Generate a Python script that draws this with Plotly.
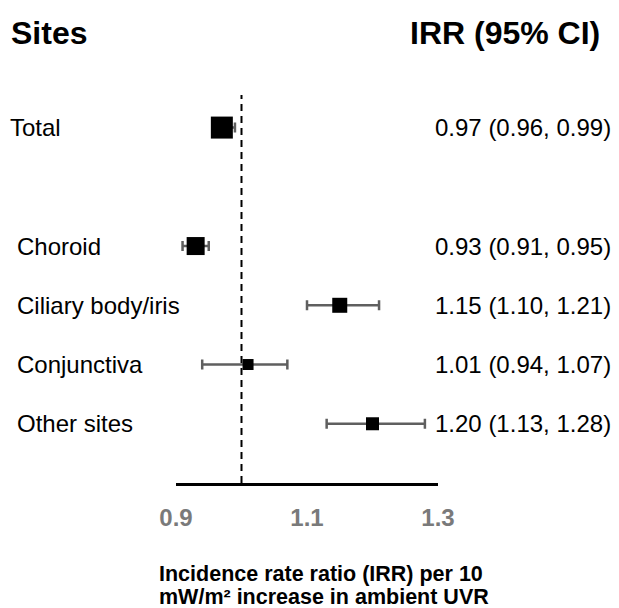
import plotly.graph_objects as go

# ---- data ----
sites = ["Total", "Choroid", "Ciliary body/iris", "Conjunctiva", "Other sites"]
irr = [0.97, 0.93, 1.15, 1.01, 1.20]
ci_low = [0.96, 0.91, 1.10, 0.94, 1.13]
ci_high = [0.99, 0.95, 1.21, 1.07, 1.28]
row_pos = [5, 3, 2, 1, 0]
tick_vals = [0.9, 1.1, 1.3]
tick_text = ["0.9", "1.1", "1.3"]

# ---- style ----
marker_sizes = [22, 18, 15, 11, 13]
FONT = "Liberation Sans, Arial, sans-serif"
W, H = 619, 608
ML, MR, MT, MB = 176, 181, 95, 125
PW, PH = W - ML - MR, H - MT - MB


def px_x(p):
    return (p - ML) / PW


def px_y(p):
    return (H - MB - p) / PH


fig = go.Figure()
# confidence intervals (drawn first, beneath the markers)
fig.add_trace(go.Scatter(
    x=irr, y=row_pos, mode="markers",
    marker=dict(size=1, color="rgba(0,0,0,0)"),
    error_x=dict(type="data", symmetric=False,
                 array=[h - v for h, v in zip(ci_high, irr)],
                 arrayminus=[v - l for v, l in zip(irr, ci_low)],
                 color="#5f5f5f", thickness=2.5, width=5),
    showlegend=False, hoverinfo="skip",
))
# point estimates
fig.add_trace(go.Scatter(
    x=irr, y=row_pos, mode="markers",
    marker=dict(symbol="square", size=marker_sizes, color="black", opacity=1,
                line=dict(width=0)),
    showlegend=False, hoverinfo="skip",
))

# reference line at IRR = 1
fig.add_shape(type="line", x0=1.0, x1=1.0, xref="x", y0=0, y1=1, yref="paper",
              line=dict(color="black", width=2, dash="7px,5px"), layer="above")

annotations = []
for s, v, lo, hi, y in zip(sites, irr, ci_low, ci_high, row_pos):
    lx = 8 if s == "Total" else 15
    annotations.append(dict(text=s, x=px_x(lx), xref="paper", y=y, yref="y",
                            xanchor="left", yanchor="middle", showarrow=False,
                            font=dict(family=FONT, size=24, color="black")))
    annotations.append(dict(text=f"{v:.2f} ({lo:.2f}, {hi:.2f})", x=px_x(613), xref="paper",
                            y=y, yref="y", xanchor="right", yanchor="middle",
                            showarrow=False,
                            font=dict(family=FONT, size=24, color="black")))

annotations.append(dict(text="<b>Sites</b>", x=px_x(9), xref="paper", y=px_y(33), yref="paper",
                        xanchor="left", yanchor="middle", showarrow=False,
                        font=dict(family=FONT, size=32, color="black")))
annotations.append(dict(text="<b>IRR (95% CI)</b>", x=px_x(602), xref="paper", y=px_y(33),
                        yref="paper", xanchor="right", yanchor="middle", showarrow=False,
                        font=dict(family=FONT, size=32, color="black")))
annotations.append(dict(text="<b>Incidence rate ratio (IRR) per 10</b>", x=px_x(157), xref="paper",
                        y=px_y(574), yref="paper", xanchor="left", yanchor="middle",
                        showarrow=False, font=dict(family=FONT, size=21.5, color="black")))
annotations.append(dict(text="<b>mW/m² increase in ambient UVR</b>", x=px_x(157),
                        xref="paper", y=px_y(597), yref="paper", xanchor="left",
                        yanchor="middle", showarrow=False,
                        font=dict(family=FONT, size=21.5, color="black")))

fig.update_layout(
    width=W, height=H,
    margin=dict(l=ML, r=MR, t=MT, b=MB, pad=0),
    paper_bgcolor="white", plot_bgcolor="white",
    xaxis=dict(range=[0.9, 1.3], tickvals=tick_vals, ticktext=tick_text,
               showgrid=False, zeroline=False, showline=True, linecolor="black",
               linewidth=2.5, ticks="", ticklabelstandoff=11,
               tickfont=dict(family=FONT, size=24, color="#7a7a7a", weight="bold"),
               fixedrange=True),
    yaxis=dict(range=[-1, 5.55], visible=False, fixedrange=True),
    annotations=annotations,
)

fig.write_html("out.html", config={"displayModeBar": False},
               post_script="document.body.style.margin='0';document.body.style.overflow='hidden';")
